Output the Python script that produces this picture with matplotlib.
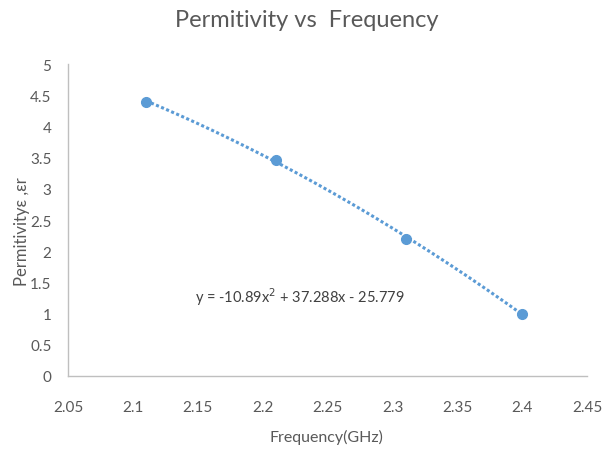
import numpy as np
import matplotlib.pyplot as plt

plt.rcParams['font.family'] = ['Lato', 'DejaVu Sans']

freq = [2.11, 2.21, 2.31, 2.40]
perm = [4.40, 3.47, 2.20, 1.00]
xticks = [2.05, 2.1, 2.15, 2.2, 2.25, 2.3, 2.35, 2.4, 2.45]
yticks = [0, 0.5, 1, 1.5, 2, 2.5, 3, 3.5, 4, 4.5, 5]
eq_text = "y = -10.89x$^2$ + 37.288x - 25.779"

blue = "#5B9BD5"
grey = "#595959"

fig = plt.figure(figsize=(6.13, 4.52), dpi=100)
ax = fig.add_axes([0.111, 0.166, 0.847, 0.690])

# polynomial trendline (order 2)
coef = np.polyfit(freq, perm, 2)
xs = np.linspace(freq[0], freq[-1], 200)
ax.plot(xs, np.polyval(coef, xs), color=blue, lw=2.2, ls=(0, (1, 0.8)))
ax.plot(freq, perm, "o", color=blue, ms=7, zorder=3)

ax.set_xlim(2.05, 2.45)
ax.set_ylim(0, 5)
ax.set_xticks(xticks)
ax.set_xticklabels([f"{v:g}" for v in xticks])
ax.set_yticks(yticks)
ax.set_yticklabels([f"{v:g}" for v in yticks])
ax.tick_params(length=0, colors=grey, labelsize=11)
ax.tick_params(axis="x", pad=17)
ax.tick_params(axis="y", pad=12)

for s in ["top", "right"]:
    ax.spines[s].set_visible(False)
for s in ["left", "bottom"]:
    ax.spines[s].set_color("#BFBFBF")
    ax.spines[s].set_linewidth(1)

ax.text(2.148, 1.28, eq_text, color="#404040", fontsize=10.5, va="center")

fig.text(0.5, 0.955, "Permitivity vs  Frequency", ha="center", va="center",
         fontsize=17, color=grey)
fig.text(0.533, 0.033, "Frequency(GHz)", ha="center", va="center",
         fontsize=11.5, color=grey)
fig.text(0.036, 0.488, "Permitivityε ,εr", ha="center", va="center",
         rotation=90, fontsize=12, color=grey)

fig.savefig("out.png", dpi=100)
